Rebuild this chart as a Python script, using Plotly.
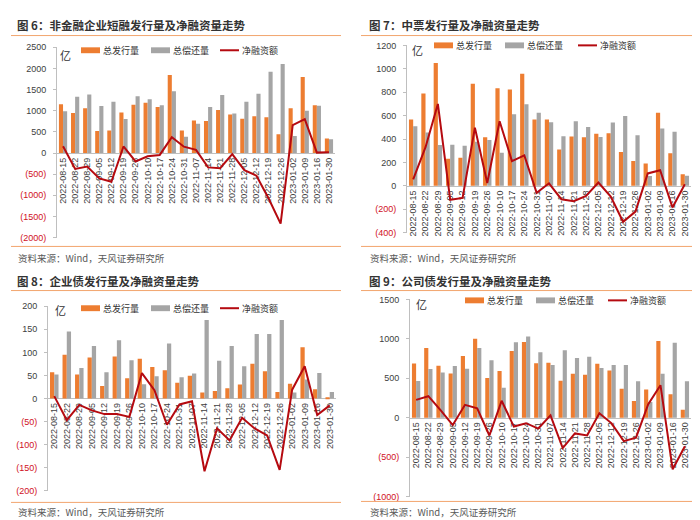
import plotly.graph_objects as go

# ---------------- data ----------------
dates = ["2022-08-15", "2022-08-22", "2022-08-29", "2022-09-05", "2022-09-12",
         "2022-09-19", "2022-09-26", "2022-10-10", "2022-10-17", "2022-10-24",
         "2022-10-31", "2022-11-07", "2022-11-14", "2022-11-21", "2022-11-28",
         "2022-12-05", "2022-12-12", "2022-12-19", "2022-12-26", "2023-01-02",
         "2023-01-09", "2023-01-16", "2023-01-30"]

series_names = ["总发行量", "总偿还量", "净融资额"]

# 图6 非金融企业短融
cp_issue = [1155, 945, 1060, 520, 535, 960, 1140, 1190, 1090, 1845, 535, 770,
            755, 1015, 910, 810, 870, 845, 445, 1060, 1800, 1130, 345]
cp_repay = [990, 1330, 1385, 1115, 1215, 805, 1345, 1270, 1130, 1460, 385, 690,
            1090, 1370, 935, 1215, 1405, 1920, 2105, 400, 1000, 1120, 325]
cp_net = [160, -375, -320, -600, -680, 155, -200, -78, -45, 375, 150, 75,
          -340, -358, -25, -405, -535, -1070, -1670, 660, 800, 10, 20]

# 图7 中票
mtn_issue = [566, 789, 1049, 232, 240, 873, 416, 834, 823, 957, 566, 566,
             310, 421, 416, 446, 449, 290, 212, 190, 625, 279, 100]
mtn_repay = [510, 455, 349, 351, 343, 376, 391, 282, 611, 697, 625, 544,
             424, 552, 502, 418, 541, 597, 432, 84, 491, 463, 86]
mtn_net = [55, 330, 700, -119, -103, 497, 25, 552, 212, 260, -59, 22,
           -114, -131, -86, 28, -92, -307, -220, 106, 134, -184, 14]

# 图8 企业债
eb_issue = [57, 95, 52, 89, 27, 91, 44, 86, 68, 61, 34, 49,
            13, 16, 22, 30, 75, 59, 14, 32, 111, 20, 1]
eb_repay = [52, 145, 66, 114, 57, 126, 83, 31, 48, 119, 46, 54,
            170, 82, 114, 70, 140, 140, 170, 13, 41, 55, 14]
eb_net = [5, -47, -14, -26, -34, -34, -40, 55, 18, -57, -13, -6,
          -158, -65, -91, -42, -65, -80, -155, 19, 70, -36, -15]

# 图9 公司债
cb_issue = [687, 885, 658, 560, 782, 1000, 502, 593, 844, 959, 691, 695,
            469, 556, 543, 683, 597, 366, 210, 358, 971, 296, 99]
cb_repay = [465, 617, 572, 654, 621, 885, 728, 379, 955, 1029, 831, 667,
            856, 757, 774, 630, 667, 667, 461, 200, 556, 951, 461]
cb_net = [226, 272, 95, -94, 163, 118, -226, 214, -113, -70, -138, 29,
          -385, -200, -225, 55, -72, -298, -253, 170, 412, -655, -362]

# ---------------- style / layout ----------------
ORANGE = "#ED7D31"
GRAY = "#A5A5A5"
RED = "#B50A10"
NEG = "#D0101E"
RULE = "#F2A56E"
TXT = "#404040"
FONT = "Liberation Sans, Arial, Noto Sans CJK SC"
CJK = "Noto Sans CJK SC, Liberation Sans"

W, H = 700, 520


def fx(x):
    return x / W


def fy(y):
    return 1 - y / H


panels = [
    dict(title="图 6：非金融企业短融发行量及净融资量走势",
         data=(cp_issue, cp_repay, cp_net), rng=(-2000, 2500), step=500,
         xpx=(49, 327), ypx=(35, 229), tpos=(7, 12), rule=(3, 333, 23),
         brule=238, src=(8, 250), unit=(58, 43),
         leg=(38, [73, 143, 212])),
    dict(title="图 7：中票发行量及净融资量走势",
         data=(mtn_issue, mtn_repay, mtn_net), rng=(-400, 1200), step=200,
         xpx=(399, 683), ypx=(33, 224), tpos=(359, 12), rule=(353, 698, 23),
         brule=238, src=(360, 250), unit=(409, 38),
         leg=(33, [426, 497, 570])),
    dict(title="图 8：企业债发行量及净融资量走势",
         data=(eb_issue, eb_repay, eb_net), rng=(-200, 200), step=50,
         xpx=(40, 328), ypx=(299, 487), tpos=(7, 273), rule=(3, 333, 283),
         brule=499, src=(8, 509), unit=(52, 303),
         leg=(301, [73, 143, 212])),
    dict(title="图 9：公司债发行量及净融资量走势",
         data=(cb_issue, cb_repay, cb_net), rng=(-1000, 1500), step=500,
         xpx=(402, 683), ypx=(292, 493), tpos=(359, 273), rule=(353, 698, 283),
         brule=498, src=(360, 509), unit=(413, 297),
         leg=(293, [457, 528, 600])),
]

fig = go.Figure()
axes = {}
shapes = []
annotations = []

for i, p in enumerate(panels, 1):
    xa = "x" if i == 1 else f"x{i}"
    ya = "y" if i == 1 else f"y{i}"
    xkey = "xaxis" if i == 1 else f"xaxis{i}"
    ykey = "yaxis" if i == 1 else f"yaxis{i}"
    issue, repay, net = p["data"]

    fig.add_trace(go.Bar(x=dates, y=issue, name=series_names[0], marker_color=ORANGE,
                         marker_line_width=0, xaxis=xa, yaxis=ya, showlegend=False))
    fig.add_trace(go.Bar(x=dates, y=repay, name=series_names[1], marker_color=GRAY,
                         marker_line_width=0, xaxis=xa, yaxis=ya, showlegend=False))
    fig.add_trace(go.Scatter(x=dates, y=net, name=series_names[2], mode="lines",
                             line=dict(color=RED, width=2), xaxis=xa, yaxis=ya,
                             showlegend=False))

    lo, hi = p["rng"]
    x0, x1 = p["xpx"]
    ytop, ybot = p["ypx"]
    zero_px = ytop + hi / (hi - lo) * (ybot - ytop)
    tickvals = list(range(lo, hi + 1, p["step"]))
    ticktext = [str(v) if v >= 0 else f"<span style='color:{NEG}'>({-v})</span>"
                for v in tickvals]

    axes[xkey] = dict(domain=[fx(x0), fx(x1)], anchor="free", position=fy(zero_px),
                      type="category", range=[-0.5, len(dates) - 0.5],
                      showline=True, linecolor="#BFBFBF", linewidth=1,
                      ticks="", tickangle=-90,
                      tickfont=dict(size=9, color=TXT, family=FONT),
                      showgrid=False, zeroline=False, layer="below traces",
                      fixedrange=True)
    axes[ykey] = dict(domain=[fy(ybot), fy(ytop)], anchor=xa, range=[lo, hi],
                      tickmode="array", tickvals=tickvals, ticktext=ticktext,
                      showline=True, linecolor="#BFBFBF", linewidth=1,
                      ticks="outside", ticklen=3, tickcolor="#BFBFBF",
                      tickfont=dict(size=9, color=TXT, family=FONT),
                      ticklabelstandoff=5,
                      showgrid=False, zeroline=False, fixedrange=True)

    # title, rules, source
    annotations.append(dict(text=f"<b>{p['title']}</b>", x=fx(p["tpos"][0]), y=fy(p["tpos"][1]),
                            xref="paper", yref="paper", xanchor="left", yanchor="middle",
                            showarrow=False, font=dict(size=11.5, color="#333333", family=CJK)))
    rx0, rx1, ry = p["rule"]
    shapes.append(dict(type="line", xref="paper", yref="paper", x0=fx(rx0), x1=fx(rx1),
                       y0=fy(ry), y1=fy(ry), line=dict(color=RULE, width=1)))
    shapes.append(dict(type="line", xref="paper", yref="paper", x0=fx(rx0), x1=fx(rx1),
                       y0=fy(p["brule"]), y1=fy(p["brule"]), line=dict(color=RULE, width=1)))
    annotations.append(dict(text="资料来源：Wind，天风证券研究所", x=fx(p["src"][0]), y=fy(p["src"][1]),
                            xref="paper", yref="paper", xanchor="left", yanchor="middle",
                            showarrow=False, font=dict(size=9.5, color="#595959", family=CJK)))
    annotations.append(dict(text="亿", x=fx(p["unit"][0]), y=fy(p["unit"][1]),
                            xref="paper", yref="paper", xanchor="center", yanchor="middle",
                            showarrow=False, font=dict(size=11, color="#333333", family=CJK)))

    # legend (drawn)
    ly, lxs = p["leg"]
    colors = [ORANGE, GRAY]
    for k in range(3):
        lx = lxs[k]
        if k < 2:
            shapes.append(dict(type="rect", xref="paper", yref="paper",
                               x0=fx(lx), x1=fx(lx + 19), y0=fy(ly + 3), y1=fy(ly - 3),
                               fillcolor=colors[k], line=dict(width=0)))
        else:
            shapes.append(dict(type="line", xref="paper", yref="paper",
                               x0=fx(lx), x1=fx(lx + 19), y0=fy(ly), y1=fy(ly),
                               line=dict(color=RED, width=2)))
        annotations.append(dict(text=series_names[k], x=fx(lx + 20), y=fy(ly),
                                xref="paper", yref="paper", xanchor="left", yanchor="middle",
                                showarrow=False, font=dict(size=9, color="#333333", family=CJK)))

fig.update_layout(
    width=W, height=H, autosize=False,
    margin=dict(l=0, r=0, t=0, b=0),
    paper_bgcolor="white", plot_bgcolor="white",
    barmode="group", bargap=0.32, bargroupgap=0,
    showlegend=False,
    font=dict(family=FONT, color=TXT),
    shapes=shapes, annotations=annotations,
    **axes,
)

fig.write_html("out.html")
